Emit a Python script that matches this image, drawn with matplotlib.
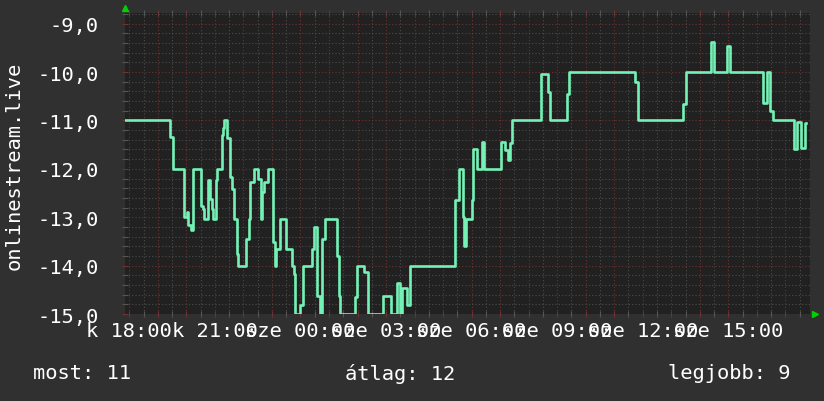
import matplotlib
matplotlib.use('Agg')
import matplotlib.pyplot as plt
from matplotlib.ticker import MultipleLocator, FuncFormatter

# hours since k 18:00, value = -rank (step series)
hours = [-0.151, 1.427, 1.521, 1.928, 2.012, 2.068, 2.163, 2.244, 2.503, 2.573,
         2.608, 2.748, 2.829, 2.899, 2.934, 3.039, 3.085, 3.239, 3.302, 3.337,
         3.415, 3.530, 3.600, 3.681, 3.765, 3.821, 4.081, 4.196, 4.242, 4.361,
         4.501, 4.606, 4.663, 4.733, 4.852, 5.048, 5.108, 5.143, 5.273, 5.504,
         5.693, 5.763, 5.809, 5.995, 6.079, 6.415, 6.475, 6.580, 6.675, 6.745,
         6.861, 7.271, 7.351, 7.397, 7.912, 7.972, 8.217, 8.357, 8.904, 9.174,
         9.395, 9.490, 9.560, 9.725, 9.840, 11.418, 11.569, 11.688, 11.744, 11.804,
         12.003, 12.060, 12.179, 12.354, 12.445, 13.020, 13.160, 13.266, 13.346, 13.406,
         14.422, 14.668, 14.748, 15.334, 15.414, 17.739, 17.823, 19.401, 19.516, 20.382,
         20.487, 20.964, 21.059, 22.226, 22.345, 22.461, 22.577, 23.313, 23.407, 23.548,
         23.688, 23.724]
values = [-11.0, -11.35, -12.0, -13.0, -12.9, -13.17, -13.27, -12.0, -12.77, -12.83,
          -13.03, -12.24, -12.62, -12.83, -13.03, -12.24, -12.0, -11.3, -11.15, -11.0,
          -11.37, -12.17, -12.41, -13.03, -13.76, -14.0, -13.45, -13.03, -12.27, -12.0,
          -12.2, -13.03, -12.48, -12.27, -12.0, -13.51, -14.0, -13.65, -13.03, -13.65,
          -14.0, -14.17, -15.0, -14.82, -14.0, -13.65, -13.2, -14.62, -15.0, -13.45,
          -13.03, -13.8, -14.62, -15.0, -14.65, -14.0, -14.13, -15.0, -14.62, -15.0,
          -14.36, -15.0, -14.46, -14.82, -14.0, -12.65, -12.0, -13.0, -13.6, -13.03,
          -12.65, -11.6, -12.0, -11.45, -12.0, -11.45, -11.62, -11.81, -11.46, -11.0,
          -10.04, -10.42, -11.0, -10.45, -10.0, -10.21, -11.0, -10.66, -10.0, -9.37,
          -10.0, -9.47, -10.0, -10.64, -10.0, -10.8, -11.0, -11.59, -11.03, -11.58,
          -11.05, -11.05]

tick_hours = [0, 3, 6, 9, 12, 15, 18, 21]
tick_labels = ['k 18:00', 'k 21:00', 'sze 00:00', 'sze 03:00',
               'sze 06:00', 'sze 09:00', 'sze 12:00', 'sze 15:00']
stat_names = ['most', 'átlag', 'legjobb']
stat_values = [11, 12, 9]
title = 'onlinestream.live'

plt.rcParams['font.family'] = ['DejaVu Sans Mono']
fs = 14.7

fig = plt.figure(figsize=(8.24, 4.02), dpi=100, facecolor='#303030')
ax = fig.add_axes([125 / 824, 1 - 315 / 402, 684.5 / 824, 301 / 402])
ax.set_facecolor('#212121')

ax.plot(hours, values, drawstyle='steps-post', color='#74f2b6', lw=1.9, zorder=3)
ax.set_xlim(-0.151, 23.846)
ax.set_ylim(-15, -8.78)

ax.xaxis.set_major_locator(MultipleLocator(1))
ax.xaxis.set_minor_locator(MultipleLocator(0.5))
ax.yaxis.set_major_locator(MultipleLocator(1))
ax.yaxis.set_minor_locator(MultipleLocator(0.2))

def xfmt(v, pos):
    h = int(round(v))
    return tick_labels[tick_hours.index(h)] if h in tick_hours else ''

ax.xaxis.set_major_formatter(FuncFormatter(xfmt))
ax.yaxis.set_major_formatter(FuncFormatter(lambda v, p: ('%.1f' % v).replace('.', ',')))

ax.grid(which='minor', color='#4c4c4c', ls=(0, (1, 2)), lw=0.8)
ax.grid(which='major', color='#6e3232', ls=(0, (1, 2)), lw=0.8)
ax.set_axisbelow(True)

ax.tick_params(which='major', colors='#6e3232', labelcolor='white', labelsize=fs,
               length=4, width=0.8, direction='inout', top=True)
ax.tick_params(which='minor', colors='#555555', length=4, width=0.8,
               direction='inout', top=True)
ax.tick_params(axis='x', pad=3)
ax.tick_params(axis='y', pad=17)
for s in ax.spines.values():
    s.set_visible(False)

# rrdtool style arrows
ax.plot([0], [1.017], marker='^', color='#00d000', ms=5, clip_on=False,
        transform=ax.transAxes)
ax.plot([1.008], [0], marker='>', color='#00d000', ms=5, clip_on=False,
        transform=ax.transAxes)

fig.text(14 / 824, 1 - 166 / 402, title, rotation=90, ha='center', va='center',
         color='white', fontsize=fs)

y = 1 - 374 / 402
fig.text(33 / 824, y, '%s: %d' % (stat_names[0], stat_values[0]), ha='left', va='center',
         color='white', fontsize=fs)
fig.text(400 / 824, y, '%s: %d' % (stat_names[1], stat_values[1]), ha='center', va='center',
         color='white', fontsize=fs)
fig.text(791 / 824, y, '%s: %d' % (stat_names[2], stat_values[2]), ha='right', va='center',
         color='white', fontsize=fs)

fig.savefig('out.png', dpi=100, facecolor=fig.get_facecolor())
